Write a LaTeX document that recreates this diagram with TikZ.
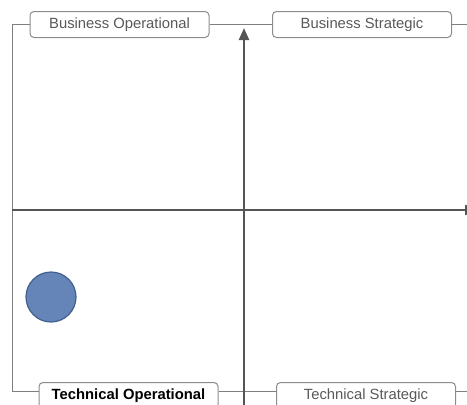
\documentclass[tikz,border=0pt]{standalone}
\usepackage{fontspec}
\setmainfont{Liberation Sans}
\usetikzlibrary{arrows.meta}
\definecolor{framegray}{HTML}{7F7F7F}
\definecolor{axisgray}{HTML}{555555}
\definecolor{textgray}{HTML}{595959}
\definecolor{dotfill}{HTML}{6585B8}
\definecolor{dotedge}{HTML}{41608F}
\tikzset{
  quadbox/.style={draw=framegray!90,line width=1pt,rounded corners=4pt,fill=white,
    minimum width=179pt,minimum height=26pt,inner sep=0pt,text=textgray,font=\fontsize{14.8}{16}\selectfont},
  frameline/.style={draw=framegray,line width=0.9pt},
  axis/.style={draw=axisgray,line width=2.3pt,-{Triangle[length=12pt,width=10pt]}}
}
\begin{document}
\begin{tikzpicture}[x=1pt,y=-1pt]
    \useasboundingbox (0,0) rectangle (467,405);
    \clip (0,0) rectangle (467,405);
    % frame with the four labels
    \node[quadbox] (busop) at (119.5,24.5) {Business Operational};
    \node[quadbox] (busst) at (362,24.5) {Business Strategic};
    \node[quadbox,font=\fontsize{14.8}{16}\selectfont\bfseries,text=black] (techop) at (128.5,395.5) {Technical Operational};
    \node[quadbox] (techst) at (366,395.5) {Technical Strategic};
    \coordinate (topright) at (470,24);
    \coordinate (botleft) at (12,391);
    \coordinate (botright) at (470,391);
    \draw[frameline] (botleft) -- (12,24) -- (busop.west |- topright);
    \draw[frameline] (busop.east |- topright) -- (busst.west |- topright);
    \draw[frameline] (busst.east |- topright) -- (topright);
    \draw[frameline] (botleft) -- (techop.west |- botleft);
    \draw[frameline] (techop.east |- botleft) -- (techst.west |- botleft);
    \draw[frameline] (techst.east |- botleft) -- (botright);
    % axes
    \coordinate (vbot) at (244,410);
    \coordinate (vtop) at (244,28);
    \coordinate (hleft) at (12,210);
    \coordinate (hright) at (477,210);
    \draw[axis] (vbot) -- (vtop);
    \draw[axis] (hleft) -- (hright);
    % item
    \node[circle,minimum size=50pt,inner sep=0pt,fill=dotfill,draw=dotedge,line width=1.2pt] (item) at (51,297) {};
\end{tikzpicture}
\end{document}
